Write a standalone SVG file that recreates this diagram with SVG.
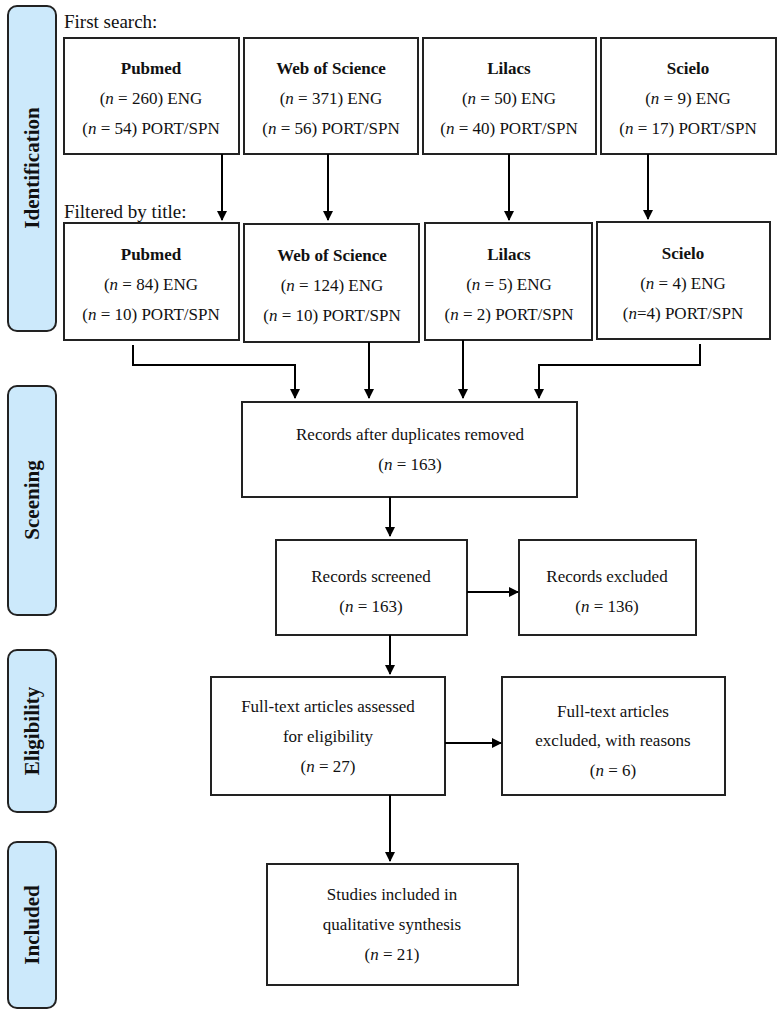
<svg xmlns="http://www.w3.org/2000/svg" width="784" height="1017" viewBox="0 0 784 1017">
<style>
text{font-family:"Liberation Serif","DejaVu Serif",serif;font-size:17px;fill:#111}
.c{text-anchor:middle}
.b{font-weight:bold}
.side{fill:#cce9fb;stroke:#222;stroke-width:2}
.box{fill:#fff;stroke:#222;stroke-width:2}
.ln{fill:none;stroke:#000;stroke-width:2}
</style>
<defs><marker id="a" markerWidth="10" markerHeight="10" refX="9" refY="5" orient="auto" markerUnits="userSpaceOnUse"><path d="M0,0 L10,5 L0,10 z" fill="#000"/></marker></defs>
<g id="side-identification"><rect class="side" x="8" y="6" width="48" height="325" rx="9"/><text class="c b" style="font-size:21px" transform="translate(39,168) rotate(-90)">Identification</text></g>
<g id="side-screening"><rect class="side" x="8" y="386" width="48" height="229" rx="9"/><text class="c b" style="font-size:21px" transform="translate(39,500) rotate(-90)">Sceening</text></g>
<g id="side-eligibility"><rect class="side" x="8" y="650" width="48" height="162" rx="9"/><text class="c b" style="font-size:21px" transform="translate(39,731) rotate(-90)">Eligibility</text></g>
<g id="side-included"><rect class="side" x="8" y="842" width="48" height="166" rx="9"/><text class="c b" style="font-size:21px" transform="translate(39,925) rotate(-90)">Included</text></g>
<text x="64" y="28" style="font-size:19px">First search:</text>
<text x="64" y="218" style="font-size:19px">Filtered by title:</text>
<g id="n1"><rect class="box" x="64" y="38" width="175" height="116"/><text class="c b" x="151" y="74">Pubmed</text><text class="c" x="151" y="104">(<tspan font-style="italic">n</tspan> = 260) ENG</text><text class="c" x="151" y="134">(<tspan font-style="italic">n</tspan> = 54) PORT/SPN</text></g>
<g id="n2"><rect class="box" x="244" y="38" width="174" height="116"/><text class="c b" x="331" y="74">Web of Science</text><text class="c" x="331" y="104">(<tspan font-style="italic">n</tspan> = 371) ENG</text><text class="c" x="331" y="134">(<tspan font-style="italic">n</tspan> = 56) PORT/SPN</text></g>
<g id="n3"><rect class="box" x="423" y="38" width="173" height="116"/><text class="c b" x="509" y="74">Lilacs</text><text class="c" x="509" y="104">(<tspan font-style="italic">n</tspan> = 50) ENG</text><text class="c" x="509" y="134">(<tspan font-style="italic">n</tspan> = 40) PORT/SPN</text></g>
<g id="n4"><rect class="box" x="601" y="38" width="175" height="116"/><text class="c b" x="688" y="74">Scielo</text><text class="c" x="688" y="104">(<tspan font-style="italic">n</tspan> = 9) ENG</text><text class="c" x="688" y="134">(<tspan font-style="italic">n</tspan> = 17) PORT/SPN</text></g>
<g id="n5"><rect class="box" x="64" y="223" width="175" height="117"/><text class="c b" x="151" y="260">Pubmed</text><text class="c" x="151" y="290">(<tspan font-style="italic">n</tspan> = 84) ENG</text><text class="c" x="151" y="320">(<tspan font-style="italic">n</tspan> = 10) PORT/SPN</text></g>
<g id="n6"><rect class="box" x="244" y="224" width="175" height="118"/><text class="c b" x="332" y="261">Web of Science</text><text class="c" x="332" y="291">(<tspan font-style="italic">n</tspan> = 124) ENG</text><text class="c" x="332" y="321">(<tspan font-style="italic">n</tspan> = 10) PORT/SPN</text></g>
<g id="n7"><rect class="box" x="425" y="223" width="167" height="117"/><text class="c" x="509" y="260"><tspan font-weight="bold">Lilacs</tspan></text><text class="c" x="509" y="290">(<tspan font-style="italic">n</tspan> = 5) ENG</text><text class="c" x="509" y="320">(<tspan font-style="italic">n</tspan> = 2) PORT/SPN</text></g>
<g id="n8"><rect class="box" x="597" y="222" width="173" height="117"/><text class="c b" x="683" y="259">Scielo</text><text class="c" x="683" y="289">(<tspan font-style="italic">n</tspan> = 4) ENG</text><text class="c" x="683" y="319">(<tspan font-style="italic">n</tspan>=4) PORT/SPN</text></g>
<g id="n9"><rect class="box" x="242" y="402" width="335" height="95"/><text class="c" x="410" y="440">Records after duplicates removed</text><text class="c" x="410" y="470">(<tspan font-style="italic">n</tspan> = 163)</text></g>
<g id="n10"><rect class="box" x="276" y="540" width="191" height="95"/><text class="c" x="371" y="582">Records screened</text><text class="c" x="371" y="612">(<tspan font-style="italic">n</tspan> = 163)</text></g>
<g id="n11"><rect class="box" x="519" y="540" width="177" height="95"/><text class="c" x="607" y="582">Records excluded</text><text class="c" x="607" y="612">(<tspan font-style="italic">n</tspan> = 136)</text></g>
<g id="n12"><rect class="box" x="211" y="677" width="234" height="118"/><text class="c" x="328" y="712">Full-text articles assessed</text><text class="c" x="328" y="742">for eligibility</text><text class="c" x="328" y="772">(<tspan font-style="italic">n</tspan> = 27)</text></g>
<g id="n13"><rect class="box" x="502" y="677" width="223" height="118"/><text class="c" x="613" y="717">Full-text articles</text><text class="c" x="613" y="746">excluded, with reasons</text><text class="c" x="613" y="776">(<tspan font-style="italic">n</tspan> = 6)</text></g>
<g id="n14"><rect class="box" x="267" y="864" width="251" height="121"/><text class="c" x="392" y="900">Studies included in</text><text class="c" x="392" y="930">qualitative synthesis</text><text class="c" x="392" y="960">(<tspan font-style="italic">n</tspan> = 21)</text></g>
<g id="connectors">
<path class="ln" marker-end="url(#a)" d="M222,154 V220"/>
<path class="ln" marker-end="url(#a)" d="M328,154 V220"/>
<path class="ln" marker-end="url(#a)" d="M509,154 V220"/>
<path class="ln" marker-end="url(#a)" d="M648,154 V219"/>
<path class="ln" marker-end="url(#a)" d="M133,345 V365 H295 V398"/>
<path class="ln" marker-end="url(#a)" d="M369,342 V398"/>
<path class="ln" marker-end="url(#a)" d="M463,340 V398"/>
<path class="ln" marker-end="url(#a)" d="M700,344 V365 H539 V398"/>
<path class="ln" marker-end="url(#a)" d="M390,497 V536"/>
<path class="ln" marker-end="url(#a)" d="M467,592 H518"/>
<path class="ln" marker-end="url(#a)" d="M390,635 V674"/>
<path class="ln" marker-end="url(#a)" d="M445,743 H501"/>
<path class="ln" marker-end="url(#a)" d="M390,795 V861"/>
</g>
</svg>
